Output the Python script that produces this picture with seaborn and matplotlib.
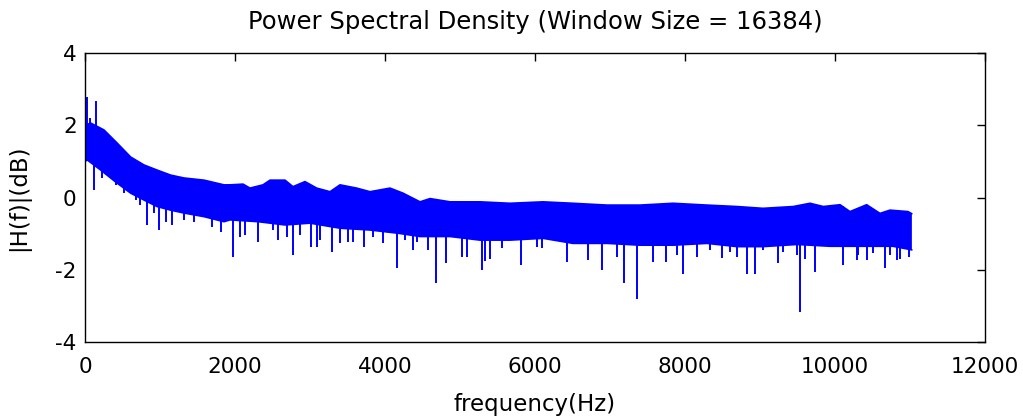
import numpy as np
import pandas as pd
import matplotlib
matplotlib.use("Agg")
import matplotlib.pyplot as plt
import seaborn as sns

# ---- data (Hz, dB) ----
# upper edge of the dense band
upper_freq = [0, 76, 253, 427, 609, 787, 960, 1142, 1320, 1587, 1853, 1933,
              2107, 2200, 2373, 2467, 2667, 2773, 2933, 3089, 3267, 3400, 3622,
              3800, 4067, 4240, 4467, 4600, 4867, 5267, 5667, 6107, 6507, 6960,
              7400, 7840, 8293, 8693, 9040, 9444, 9667, 9844, 10067, 10200,
              10422, 10600, 10733, 10973, 11025]
upper_val = [2.0, 2.06, 1.87, 1.51, 1.12, 0.9, 0.76, 0.62, 0.54, 0.48, 0.35,
             0.35, 0.37, 0.26, 0.35, 0.48, 0.48, 0.3, 0.44, 0.26, 0.16, 0.35,
             0.26, 0.16, 0.26, 0.12, -0.12, -0.03, -0.12, -0.12, -0.16, -0.12,
             -0.16, -0.21, -0.21, -0.16, -0.21, -0.25, -0.3, -0.25, -0.16,
             -0.25, -0.2, -0.39, -0.2, -0.44, -0.35, -0.39, -0.45]
# lower edge of the solid core of the band
lower_freq = [0, 30, 209, 427, 609, 787, 960, 1142, 1320, 1587, 1853, 1933,
              2311, 2667, 3000, 3400, 3800, 4178, 4467, 4867, 5267, 5667, 6107,
              6507, 6960, 7400, 7840, 8293, 8693, 9040, 9493, 9933, 10373,
              10773, 11025]
lower_val = [1.0, 1.04, 0.76, 0.4, 0.12, -0.07, -0.25, -0.35, -0.43, -0.53,
             -0.67, -0.62, -0.67, -0.76, -0.71, -0.85, -0.9, -0.99, -1.08,
             -1.08, -1.18, -1.18, -1.13, -1.27, -1.27, -1.32, -1.32, -1.27,
             -1.36, -1.36, -1.3, -1.35, -1.35, -1.35, -1.45]

# downward spikes (frequency, lowest value)
spike_down_freq = [120, 231, 409, 520, 676, 733, 831, 920, 987, 1076, 1164,
                   1320, 1453, 1698, 1809, 1973, 2067, 2133, 2311, 2511, 2578,
                   2689, 2776, 2867, 3011, 3089, 3133, 3289, 3400, 3511, 3578,
                   3722, 3844, 3978, 4156, 4267, 4378, 4422, 4578, 4680, 4813,
                   5022, 5089, 5289, 5333, 5400, 5556, 5809, 6022, 6089, 6422,
                   6702, 6889, 7089, 7187, 7356, 7573, 7747, 7889, 7969, 8156,
                   8333, 8489, 8600, 8689, 8822, 8933, 9044, 9244, 9311, 9489,
                   9533, 9600, 9733, 10100, 10289, 10311, 10422, 10511, 10667,
                   10733, 10822, 10867, 10990]
spike_down_val = [0.21, 0.54, 0.35, 0.12, -0.07, -0.21, -0.76, -0.43, -0.9,
                  -0.67, -0.76, -0.62, -0.67, -0.81, -0.95, -1.66, -1.08, -1.03,
                  -1.22, -0.9, -1.18, -1.08, -1.6, -1.03, -1.36, -1.36, -1.18,
                  -1.5, -1.27, -1.22, -1.22, -1.36, -1.08, -1.27, -1.95, -1.18,
                  -1.45, -1.22, -1.45, -2.36, -1.82, -1.64, -1.64, -2.0, -1.77,
                  -1.69, -1.41, -1.87, -1.36, -1.41, -1.78, -1.73, -2.0, -1.64,
                  -2.36, -2.81, -1.78, -1.78, -1.6, -2.12, -1.64, -1.45, -1.68,
                  -1.5, -1.64, -2.12, -2.12, -1.45, -1.82, -1.5, -1.6, -3.16,
                  -1.69, -2.05, -1.88, -1.73, -1.6, -1.73, -1.55, -1.95, -1.6,
                  -1.73, -1.7, -1.64]
# upward spikes near DC
spike_up_freq = [20, 67, 151]
spike_up_val = [2.78, 2.2, 2.68]

x_ticks = [0, 2000, 4000, 6000, 8000, 10000, 12000]
y_ticks = [-4, -2, 0, 2, 4]

title = "Power Spectral Density (Window Size = 16384)"
xlabel = "frequency(Hz)"
ylabel = "|H(f)|(dB)"

# ---- plotting ----
sns.set_style("white")
plt.rcParams['font.family'] = ['DejaVu Sans']
plt.rcParams['text.color'] = 'black'
plt.rcParams['axes.labelcolor'] = 'black'

fig = plt.figure(figsize=(10.23, 4.2), dpi=100)
ax = fig.add_axes([85/1023, 78/420, 900/1023, 289/420])

blue = "#0000ff"
up = pd.DataFrame({"freq": upper_freq, "val": upper_val})
lo = pd.DataFrame({"freq": lower_freq, "val": lower_val})

poly_x = np.r_[up["freq"].to_numpy(), lo["freq"].to_numpy()[::-1]]
poly_y = np.r_[up["val"].to_numpy(), lo["val"].to_numpy()[::-1]]
ax.fill(poly_x, poly_y, color=blue, lw=0)
sns.lineplot(data=up, x="freq", y="val", color=blue, lw=1.2, ax=ax)
sns.lineplot(data=lo, x="freq", y="val", color=blue, lw=1.2, ax=ax)

anchor_d = np.interp(spike_down_freq, upper_freq, upper_val)
ax.vlines(spike_down_freq, spike_down_val, anchor_d, color=blue, lw=1.4)
anchor_u = np.interp(spike_up_freq, lower_freq, lower_val)
ax.vlines(spike_up_freq, anchor_u, spike_up_val, color=blue, lw=1.4)

ax.set_xlim(0, 12000)
ax.set_ylim(-4, 4)
ax.set_xticks(x_ticks)
ax.set_xticklabels([str(t) for t in x_ticks])
ax.set_yticks(y_ticks)
ax.set_yticklabels([str(t) for t in y_ticks])
ax.tick_params(direction="in", length=6, width=1, top=True, right=True,
               labelsize=15.5, colors="black")
ax.tick_params(axis="x", pad=11)
ax.tick_params(axis="y", pad=6)
for s in ax.spines.values():
    s.set_visible(True)
    s.set_color("black")
    s.set_linewidth(1)

ax.set_title(title, fontsize=17.5, pad=17, color="black")
ax.set_xlabel(xlabel, fontsize=16.5, labelpad=11)
ax.set_ylabel(ylabel, fontsize=16.5, labelpad=18)

fig.savefig("out.png", dpi=100, facecolor="white")
